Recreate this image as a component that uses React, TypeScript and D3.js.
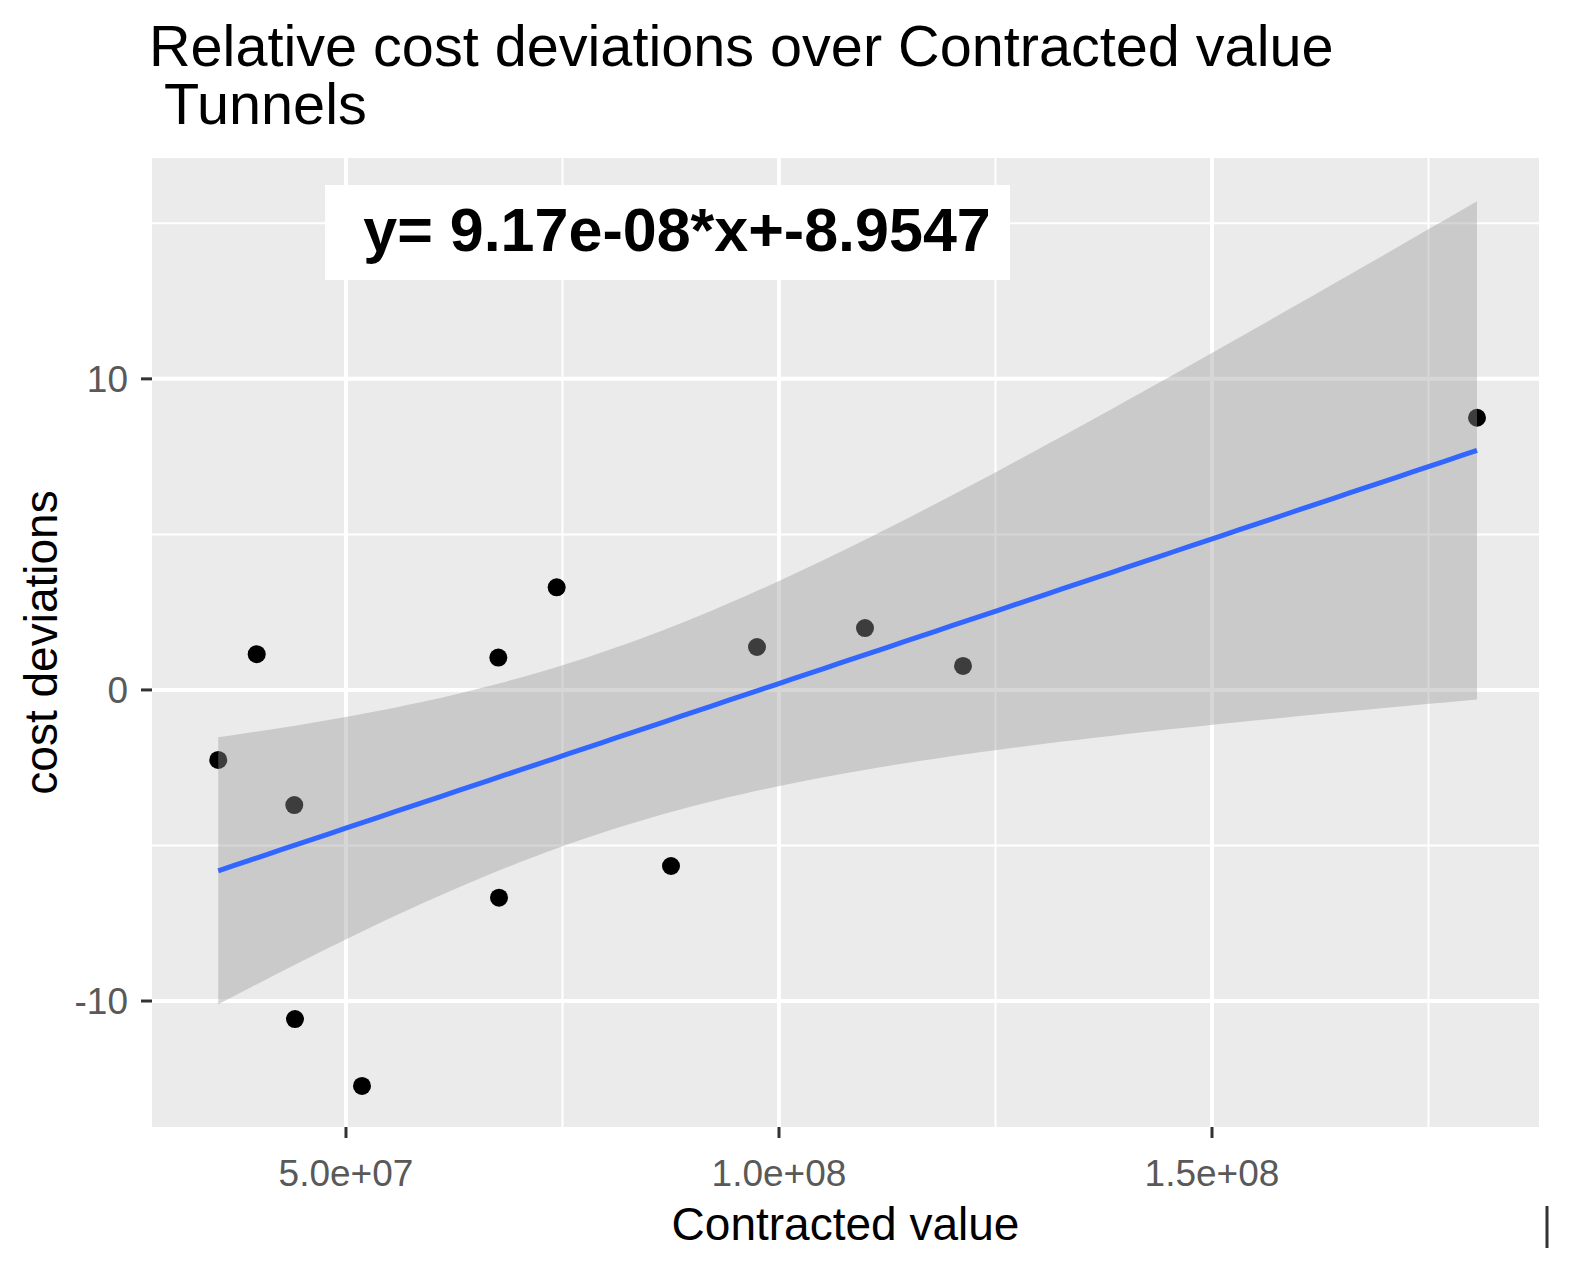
import { area, line, max, mean, min, range, scaleLinear, select, sum } from 'd3';
import { useEffect, useRef } from 'react';

// contracted value (x) and relative cost deviation (y) per tunnel project
const contractedValue = [
  3.525e7, 3.969e7, 4.403e7, 4.411e7, 5.185e7, 6.759e7, 6.767e7, 7.433e7, 8.753e7, 9.746e7,
  1.0993e8, 1.2125e8, 1.806e8,
];
const costDeviation = [
  -2.25, 1.15, -3.7, -10.58, -12.73, 1.04, -6.68, 3.3, -5.66, 1.38, 1.99, 0.77, 8.75,
];

const xTicks = [5e7, 1e8, 1.5e8];
const xTickLabels = ['5.0e+07', '1.0e+08', '1.5e+08'];
const xMinorTicks = [7.5e7, 1.25e8, 1.75e8];
const yTicks = [-10, 0, 10];
const yTickLabels = ['-10', '0', '10'];
const yMinorTicks = [-5, 5, 15];

const titleLines = ['Relative cost deviations over Contracted value', ' Tunnels'];
const equationText = 'y= 9.17e-08*x+-8.9547';
const xTitle = 'Contracted value';
const yTitle = 'cost deviations';

const FONT = '"Liberation Sans", Arial, sans-serif';

export default function App() {
  const svgRef = useRef<SVGSVGElement>(null);

  useEffect(() => {
    const width = 1576;
    const height = 1273;
    const panel = { left: 152, right: 1539, top: 158, bottom: 1127 };

    const svg = select(svgRef.current);
    svg.selectAll('*').remove();
    svg.attr('width', width).attr('height', height);

    svg.append('rect').attr('width', width).attr('height', height).attr('fill', '#fff');

    const x = scaleLinear().domain([2.76e7, 1.8776e8]).range([panel.left, panel.right]);
    const y = scaleLinear().domain([-14.05, 17.1]).range([panel.bottom, panel.top]);

    // panel + grid
    svg
      .append('rect')
      .attr('x', panel.left)
      .attr('y', panel.top)
      .attr('width', panel.right - panel.left)
      .attr('height', panel.bottom - panel.top)
      .attr('fill', '#EBEBEB');

    const grid = svg.append('g').attr('stroke', '#fff');
    xMinorTicks.forEach((t) =>
      grid.append('line').attr('x1', x(t)).attr('x2', x(t)).attr('y1', panel.top).attr('y2', panel.bottom).attr('stroke-width', 2)
    );
    yMinorTicks.forEach((t) =>
      grid.append('line').attr('x1', panel.left).attr('x2', panel.right).attr('y1', y(t)).attr('y2', y(t)).attr('stroke-width', 2)
    );
    xTicks.forEach((t) =>
      grid.append('line').attr('x1', x(t)).attr('x2', x(t)).attr('y1', panel.top).attr('y2', panel.bottom).attr('stroke-width', 4)
    );
    yTicks.forEach((t) =>
      grid.append('line').attr('x1', panel.left).attr('x2', panel.right).attr('y1', y(t)).attr('y2', y(t)).attr('stroke-width', 4)
    );

    // points (drawn first, the smoother ribbon lies over them like in ggplot)
    const pts = contractedValue.map((v, i) => ({ x: v, y: costDeviation[i] }));
    svg
      .append('g')
      .selectAll('circle')
      .data(pts)
      .enter()
      .append('circle')
      .attr('cx', (d) => x(d.x))
      .attr('cy', (d) => y(d.y))
      .attr('r', 9)
      .attr('fill', '#000');

    // linear fit with 95% confidence band
    const n = pts.length;
    const mx = mean(contractedValue)!;
    const my = mean(costDeviation)!;
    const sxx = sum(contractedValue, (v) => (v - mx) ** 2);
    const sxy = sum(pts, (d) => (d.x - mx) * (d.y - my));
    const slope = sxy / sxx;
    const intercept = my - slope * mx;
    const rss = sum(pts, (d) => (d.y - intercept - slope * d.x) ** 2);
    const s = Math.sqrt(rss / (n - 2));
    const tq = 2.200985; // qt(0.975, 11)

    const x0 = min(contractedValue)!;
    const x1 = max(contractedValue)!;
    const fit = range(80).map((i) => {
      const xv = x0 + (i * (x1 - x0)) / 79;
      const yh = intercept + slope * xv;
      const se = s * Math.sqrt(1 / n + (xv - mx) ** 2 / sxx);
      return { x: xv, y: yh, lo: yh - tq * se, hi: yh + tq * se };
    });

    svg
      .append('path')
      .datum(fit)
      .attr('fill', '#999999')
      .attr('fill-opacity', 0.4)
      .attr(
        'd',
        area<(typeof fit)[number]>()
          .x((d) => x(d.x))
          .y0((d) => y(d.lo))
          .y1((d) => y(d.hi))
      );

    svg
      .append('path')
      .datum(fit)
      .attr('fill', 'none')
      .attr('stroke', '#3366FF')
      .attr('stroke-width', 5)
      .attr(
        'd',
        line<(typeof fit)[number]>()
          .x((d) => x(d.x))
          .y((d) => y(d.y))
      );

    // equation label
    const lab = svg.append('g');
    lab
      .append('rect')
      .attr('x', 325)
      .attr('y', 185)
      .attr('width', 685)
      .attr('height', 95)
      .attr('fill', '#fff');
    lab
      .append('text')
      .attr('x', 677)
      .attr('y', 251)
      .attr('text-anchor', 'middle')
      .attr('font-family', FONT)
      .attr('font-weight', 'bold')
      .attr('font-size', 61)
      .attr('fill', '#000')
      .text(equationText);

    // axes ticks
    const axes = svg.append('g').attr('stroke', '#333333').attr('stroke-width', 3);
    xTicks.forEach((t) =>
      axes.append('line').attr('x1', x(t)).attr('x2', x(t)).attr('y1', panel.bottom).attr('y2', panel.bottom + 11)
    );
    yTicks.forEach((t) =>
      axes.append('line').attr('x1', panel.left - 11).attr('x2', panel.left).attr('y1', y(t)).attr('y2', y(t))
    );

    svg
      .append('g')
      .selectAll('text')
      .data(xTicks)
      .enter()
      .append('text')
      .attr('x', (d) => x(d))
      .attr('y', panel.bottom + 59)
      .attr('text-anchor', 'middle')
      .attr('font-family', FONT)
      .attr('font-size', 37)
      .attr('fill', '#595959')
      .text((_, i) => xTickLabels[i]);

    svg
      .append('g')
      .selectAll('text')
      .data(yTicks)
      .enter()
      .append('text')
      .attr('x', panel.left - 24)
      .attr('y', (d) => y(d))
      .attr('dy', '0.36em')
      .attr('text-anchor', 'end')
      .attr('font-family', FONT)
      .attr('font-size', 37)
      .attr('fill', '#595959')
      .text((_, i) => yTickLabels[i]);

    // axis titles
    svg
      .append('text')
      .attr('x', (panel.left + panel.right) / 2)
      .attr('y', 1240)
      .attr('text-anchor', 'middle')
      .attr('font-family', FONT)
      .attr('font-size', 46)
      .attr('fill', '#000')
      .text(xTitle);

    svg
      .append('text')
      .attr('transform', `translate(57,${(panel.top + panel.bottom) / 2}) rotate(-90)`)
      .attr('text-anchor', 'middle')
      .attr('font-family', FONT)
      .attr('font-size', 46)
      .attr('fill', '#000')
      .text(yTitle);

    // title
    svg
      .append('g')
      .selectAll('text')
      .data(titleLines)
      .enter()
      .append('text')
      .attr('x', 149)
      .attr('y', (_, i) => 66 + i * 58)
      .attr('font-family', FONT)
      .attr('font-size', 57.6)
      .attr('fill', '#000')
      .style('white-space', 'pre')
      .text((d) => d);

    // small stray mark at the bottom right of the source image
    svg
      .append('line')
      .attr('x1', 1547)
      .attr('x2', 1547)
      .attr('y1', 1206)
      .attr('y2', 1248)
      .attr('stroke', '#333')
      .attr('stroke-width', 3);
  }, []);

  return (
    <div style={{ position: 'absolute', left: 0, top: 0 }}>
      <svg ref={svgRef} style={{ display: 'block' }}></svg>
    </div>
  );
}
